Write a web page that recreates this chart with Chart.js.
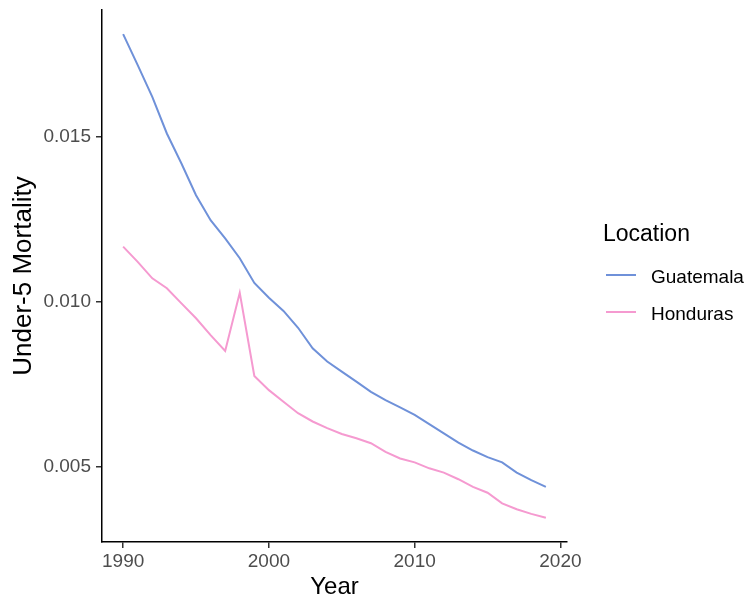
<!DOCTYPE html>
<html>
<head>
<meta charset="utf-8">
<script src="https://cdn.jsdelivr.net/npm/chart.js@4"></script>
<style>
  html, body { margin: 0; padding: 0; background: #fff; }
  #wrap { position: relative; width: 746px; height: 603px; }
  #legend { position: absolute; left: 0; top: 0; font-family: "Liberation Sans", Arial, sans-serif; color: #000; }
  #legend div { position: absolute; white-space: nowrap; line-height: 1; }
  #legend .swatch { width: 30px; height: 2px; }
</style>
</head>
<body>
<div id="wrap">
  <canvas id="chart" width="746" height="603"></canvas>
  <div id="legend"></div>
</div>
<script>
const years = [1990, 1991, 1992, 1993, 1994, 1995, 1996, 1997, 1998, 1999,
               2000, 2001, 2002, 2003, 2004, 2005, 2006, 2007, 2008, 2009,
               2010, 2011, 2012, 2013, 2014, 2015, 2016, 2017, 2018, 2019];
const guatemala = [0.01812, 0.01718, 0.01622, 0.01511, 0.01420, 0.01324, 0.01248, 0.01193, 0.01133, 0.01058,
                   0.01013, 0.00973, 0.00922, 0.00860, 0.00820, 0.00789, 0.00759, 0.00728, 0.00703, 0.00681,
                   0.00658, 0.00630, 0.00602, 0.00574, 0.00550, 0.00530, 0.00514, 0.00483, 0.00460, 0.00440];
const honduras = [0.01168, 0.01122, 0.01072, 0.01042, 0.00996, 0.00951, 0.00900, 0.00852, 0.01028, 0.00776,
                  0.00733, 0.00698, 0.00663, 0.00638, 0.00618, 0.00600, 0.00587, 0.00572, 0.00546, 0.00526,
                  0.00514, 0.00496, 0.00483, 0.00463, 0.00440, 0.00422, 0.00390, 0.00372, 0.00358, 0.00346];
const locations = ['Guatemala', 'Honduras'];
const colors = ['#6f91d9', '#f59ad0'];
const xTicks = [1990, 2000, 2010, 2020];
const yTicks = [0.005, 0.010, 0.015];

const font = '"Liberation Sans", Arial, sans-serif';
const series = [guatemala, honduras];

const datasets = locations.map((name, i) => ({
    label: name,
    data: years.map((yr, j) => ({ x: yr, y: series[i][j] })),
    borderColor: colors[i],
    borderWidth: 2,
    pointRadius: 0,
    tension: 0,
    fill: false
}));

// legend drawn as html, placed to the right of the plot
const legend = document.getElementById('legend');
let html = '<div style="left:603px;top:222px;font-size:23px">Location</div>';
locations.forEach((name, i) => {
    const y = 275 + i * 37;
    html += `<div class="swatch" style="left:606px;top:${y - 1}px;background:${colors[i]}"></div>`;
    html += `<div style="left:651px;top:${y - 8}px;font-size:19px">${name}</div>`;
});
legend.innerHTML = html;

// 5% padding around the data, like ggplot
const xMin = Math.min(...years), xMax = Math.max(...years);
const allY = guatemala.concat(honduras);
const yMin = Math.min(...allY), yMax = Math.max(...allY);
const xPad = (xMax - xMin) * 0.05, yPad = (yMax - yMin) * 0.05;

new Chart(document.getElementById('chart'), {
    type: 'line',
    data: { datasets },
    options: {
        responsive: false,
        animation: false,
        layout: { padding: { left: 0, right: 179, top: 10, bottom: 0 } },
        plugins: { legend: { display: false }, tooltip: { enabled: false } },
        scales: {
            x: {
                type: 'linear',
                min: xMin - xPad,
                max: xMax + xPad,
                afterBuildTicks: (s) => { s.ticks = xTicks.map(v => ({ value: v })); },
                afterFit: (s) => { s.height = 61; s.paddingLeft = 0; s.paddingRight = 0; },
                grid: { drawOnChartArea: false, drawTicks: true, tickLength: 6, color: '#333', lineWidth: 1.5 },
                border: { display: true, color: '#000', width: 1.5 },
                ticks: { color: '#4d4d4d', font: { family: font, size: 19 }, padding: 2, maxRotation: 0, callback: v => String(v) },
                title: { display: true, text: 'Year', color: '#000', font: { family: font, size: 24 }, padding: { top: 0, bottom: 1 } }
            },
            y: {
                type: 'linear',
                min: yMin - yPad,
                max: yMax + yPad,
                afterBuildTicks: (s) => { s.ticks = yTicks.map(v => ({ value: v })); },
                afterFit: (s) => { s.width = 102; s.paddingTop = 0; s.paddingBottom = 0; },
                grid: { drawOnChartArea: false, drawTicks: true, tickLength: 6, color: '#333', lineWidth: 1.5 },
                border: { display: true, color: '#000', width: 1.5 },
                ticks: { color: '#4d4d4d', font: { family: font, size: 19 }, padding: 5, callback: v => v.toFixed(3) },
                title: { display: true, text: 'Under-5 Mortality', color: '#000', font: { family: font, size: 26 }, padding: { top: 8, bottom: 0 } }
            }
        }
    }
});
</script>
</body>
</html>
